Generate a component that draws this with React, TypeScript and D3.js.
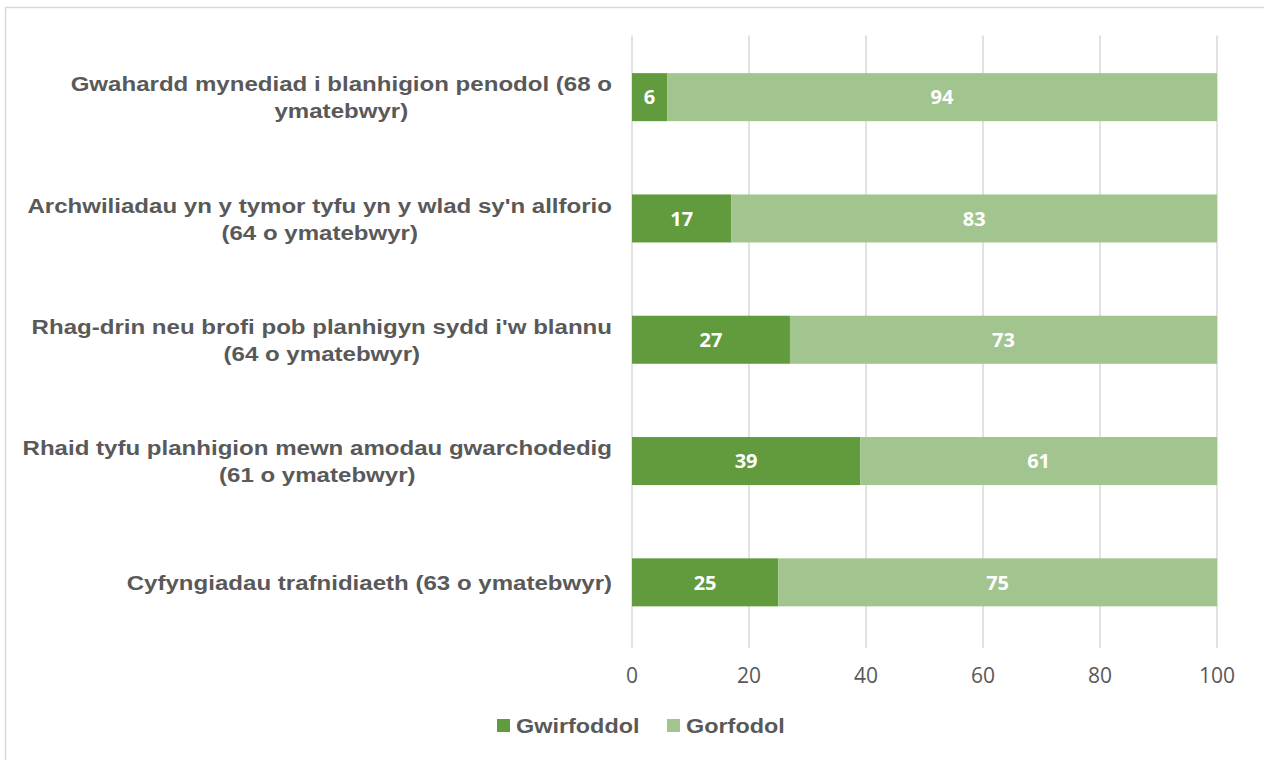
import React from "react";
import * as d3 from "d3";

const categories: string[][] = [
  ["Gwahardd mynediad i blanhigion penodol (68 o", "ymatebwyr)"],
  ["Archwiliadau yn y tymor tyfu yn y wlad sy'n allforio", "(64 o ymatebwyr)"],
  ["Rhag-drin neu brofi pob planhigyn sydd i'w blannu", "(64 o ymatebwyr)"],
  ["Rhaid tyfu planhigion mewn amodau gwarchodedig", "(61 o ymatebwyr)"],
  ["Cyfyngiadau trafnidiaeth (63 o ymatebwyr)"],
];
const gwirfoddol: number[] = [6, 17, 27, 39, 25];
const gorfodol: number[] = [94, 83, 73, 61, 75];
const seriesNames: string[] = ["Gwirfoddol", "Gorfodol"];
const xTicks: number[] = [0, 20, 40, 60, 80, 100];

const COLORS = ["#629B3D", "#A2C590"];
const TEXT = "#595959";
const LABEL_FONT = "'Liberation Sans', Arial, sans-serif";
const NUM_FONT = "'Open Sans', sans-serif";
const SX = 1.146;

export default function App() {
  const W = 1264, H = 760;
  const left = 632, right = 1217, top = 36.5, bottom = 643;
  const x = d3.scaleLinear().domain([0, 100]).range([left, right]);
  const idx = categories.map((_, i) => String(i));
  const y = d3.scaleBand().domain(idx).range([top, bottom]).paddingInner(0.604).paddingOuter(0.302);

  const stack = d3.stack<any>().keys(["a", "b"])(
    gwirfoddol.map((v, i) => ({ a: v, b: gorfodol[i] }))
  );

  return (
    <svg width={W} height={H} style={{ position: "absolute", left: 0, top: 0, background: "#fff" }}>
      <rect x={5.5} y={7.5} width={1300} height={800} fill="#fff" stroke="#D9D9D9" strokeWidth={1.5} />
      {xTicks.map((t) => (
        <line key={t} x1={x(t)} x2={x(t)} y1={top - 1} y2={bottom + 5} stroke="#D9D9D9" strokeWidth={1.5} />
      ))}
      {xTicks.map((t) => (
        <text key={"l" + t} x={x(t)} y={675} dy="0.36em" textAnchor="middle" fontFamily={NUM_FONT} fontSize={21} fill={TEXT}>
          {t}
        </text>
      ))}
      {stack.map((s, si) =>
        s.map((d, i) => {
          const yy = y(String(i))!;
          const bw = y.bandwidth();
          const x0 = x(d[0]), x1 = x(d[1]);
          return (
            <g key={si + "-" + i}>
              <rect x={x0} y={yy} width={x1 - x0} height={bw} fill={COLORS[si]} />
              <text x={(x0 + x1) / 2} y={yy + bw / 2} dy="0.36em" textAnchor="middle" fontFamily={NUM_FONT} fontWeight="bold" fontSize={20} fill="#fff">
                {d[1] - d[0]}
              </text>
            </g>
          );
        })
      )}
      {categories.map((lines, i) => {
        const cy = y(String(i))! + y.bandwidth() / 2;
        return <CenteredBlock key={"c" + i} lines={lines} right={612} cy={cy} lh={27} />;
      })}
      {seriesNames.map((n, i) => {
        const lx = [497, 667][i];
        return (
          <g key={n}>
            <rect x={lx} y={719} width={13} height={13} fill={COLORS[i]} />
            <g transform={`translate(${lx + 19},725) scale(1.115,1)`}>
              <text x={0} y={0} dy="0.36em" fontFamily={LABEL_FONT} fontWeight="bold" fontSize={21} fill={TEXT}>
                {n}
              </text>
            </g>
          </g>
        );
      })}
    </svg>
  );
}

function CenteredBlock({ lines, right, cy, lh }: { lines: string[]; right: number; cy: number; lh: number }) {
  const ref = React.useRef<SVGGElement>(null);
  const [cx, setCx] = React.useState(-250);
  React.useLayoutEffect(() => {
    if (!ref.current) return;
    const texts = Array.from(ref.current.querySelectorAll("text")) as SVGTextElement[];
    const maxW = d3.max(texts, (t) => t.getComputedTextLength()) || 0;
    setCx(-maxW / 2);
  }, []);
  const n = lines.length;
  return (
    <g transform={`translate(${right},${cy}) scale(${SX},1)`}>
      <g ref={ref}>
        {lines.map((l, j) => (
          <text key={j} x={cx} y={(j - (n - 1) / 2) * lh} dy="0.36em" textAnchor="middle" fontFamily={LABEL_FONT} fontWeight="bold" fontSize={21} fill={TEXT}>
            {l}
          </text>
        ))}
      </g>
    </g>
  );
}
